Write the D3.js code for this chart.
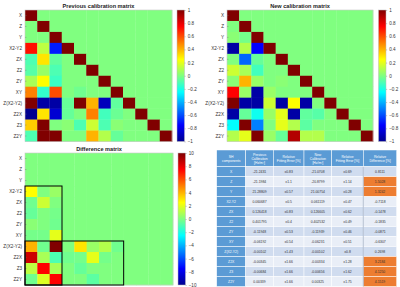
<!DOCTYPE html>
<html>
<head>
<meta charset="utf-8">
<script src="https://cdn.jsdelivr.net/npm/d3@7"></script>
<style>
  body { margin: 0; background: #fff; }
  svg { display: block; font-family: "Liberation Sans", Arial, sans-serif; }
</style>
</head>
<body>
<svg id="fig" width="400" height="287"></svg>
<script>
// ---- data ----
const labels = ["X","Z","Y","X2-Y2","ZX","Z2","ZY","XY","Z(X2-Y2)","Z2X","Z3","Z2Y"];

// lower triangles, row i has cols 0..i-1
const prevLower = [
  [],
  [0],
  [0, 0],
  [0.72, 0.12, -0.7],
  [-0.1, 0.3, -0.06, 0],
  [-0.08, 0.05, -0.1, 0, 0],
  [0.08, 0.25, -0.13, 0, 0, 0],
  [0.5, -0.15, 0.6, 0, -0.03, 0, 0],
  [1, -0.95, -0.95, -0.05, 1, 0.4, -0.9, -0.06],
  [-1, 0.3, -0.85, -0.05, 0, 0.5, -0.12, -0.04, 0],
  [0.35, 1, 0, 0.02, -0.1, 0.15, -0.1, 0.02, 0, 0],
  [-0.1, 1, 1, 0, 0, 0.4, 0.1, -0.05, 0, 0, 0]
];
const newLower = [
  [],
  [0],
  [0.02, -0.02],
  [-0.95, 0.1, -0.75],
  [0, -0.55, -0.05, 0],
  [0.15, 0.08, -0.12, 0, 0],
  [0.02, 0.4, 0.05, 0, 0.02, 0],
  [0.75, 0.05, -0.95, 0.05, 0, 0, 0],
  [1, -0.95, -0.95, 0.15, -0.95, 0.25, -0.95, 0],
  [-0.95, -0.05, -0.22, 0.05, 0.2, -0.95, -0.06, -0.08, 0],
  [-0.25, 1, -0.5, 0, 0.2, 0.1, -0.07, 0, 0, 0],
  [0.1, 0.2, 1, 0.05, -0.05, 0.9, 0.1, 0.1, 0, 0, 0]
];
const diffLower = [
  [],
  [0],
  [0, 0],
  [2.5, 0, 0.5],
  [-0.3, 1.5, 0, 0],
  [-0.5, 0, -0.2, 0, 0],
  [0.2, 0, -0.3, 0, 0, 0],
  [-0.2, -0.2, 2, 0, 0, 0, 0],
  [4, -0.3, 10, 0, 3, 0.5, 1, -0.3],
  [8.5, 0.8, -1, -0.3, -0.2, 2, -0.2, 0, 0],
  [1.2, 7.5, 0.8, 0, -0.5, 0, 0, 0, 0, 0],
  [-0.3, 1.8, 7.5, 0, 0, -0.7, 0, 0, 0, 0, 0]
];

const prevTicks = [-1, -0.8, -0.6, -0.4, -0.2, 0, 0.2, 0.4, 0.6, 0.8, 1];
const diffTicks = [-10, -8, -6, -4, -2, 0, 2, 4, 6, 8, 10];

// table columns
const tblHeader = [
  ["SH", "components"],
  ["Previous", "Calibration", "[Hz/m²]"],
  ["Relative", "Fitting Error [%]"],
  ["New", "Calibration", "[Hz/m²]"],
  ["Relative", "Fitting Error [%]"],
  ["Relative", "Difference [%]"]
];
const prevCal = ["-21.2431","-21.1984","21.28809","0.060687","0.126418","0.401795","-0.11948","-0.06192","-0.00102","-0.00345","-0.00684","0.00339"];
const prevErr = ["±0.83","±1.1","±0.57","±0.5","±0.83","±0.4","±0.53","±0.54","±1.43","±1.66","±1.66","±1.66"];
const newCal = ["-21.0708","-20.8799","21.00754","0.061119","0.126605","0.402532","-0.11939","-0.06231","-0.00102","-0.00334","-0.00656","0.00325"];
const newErr = ["±0.69","±1.14","±0.28","±0.47","±0.62","±0.49","±0.46","±0.51","±0.8","±1.28","±1.62","±1.75"];
const relDiff = ["0.8111","1.5028","1.3242","-0.7118","-0.1478","-0.1835","-0.0871","-0.6307","0.2698","3.2184","4.1250","4.1519"];
const flagged = [false, true, true, false, false, false, false, false, false, true, true, true];

// ---- helpers ----
const svg = d3.select("#fig");

const jet = d3.scaleLinear()
  .domain([0, 0.125, 0.375, 0.625, 0.875, 1])
  .range(["#00008f", "#0000ff", "#00ffff", "#ffff00", "#ff0000", "#800000"])
  .clamp(true);

function fullMatrix(lower, diagVal) {
  const cells = [];
  const n = labels.length;
  for (let i = 0; i < n; i++) {
    for (let j = 0; j < n; j++) {
      let v = 0;
      if (j < i) v = lower[i][j];
      else if (j === i) v = diagVal;
      cells.push({ r: i, c: j, v });
    }
  }
  return cells;
}

function heatmap(opt) {
  const { x0, x1, y0, y1, cells, vmax, ticks, title, cbX, gradId, fmt } = opt;
  const g = svg.append("g");

  const x = d3.scaleBand().domain(d3.range(labels.length)).range([x0, x1]);
  const y = d3.scaleBand().domain(d3.range(labels.length)).range([y0, y1]);
  const norm = v => (v + vmax) / (2 * vmax);

  g.selectAll("rect.cell")
    .data(cells)
    .join("rect")
    .attr("class", "cell")
    .attr("x", d => x(d.c))
    .attr("y", d => y(d.r))
    .attr("width", x.bandwidth() + 0.3)
    .attr("height", y.bandwidth() + 0.3)
    .attr("fill", d => jet(norm(d.v)));

  // frame
  g.append("rect")
    .attr("x", x0).attr("y", y0)
    .attr("width", x1 - x0).attr("height", y1 - y0)
    .attr("fill", "none").attr("stroke", "#c8c8c8").attr("stroke-width", 0.6);

  // row labels
  const yl = d3.scaleBand().domain(labels).range([y0, y1]);
  const ax = g.append("g")
    .attr("transform", `translate(${x0},0)`)
    .call(d3.axisLeft(yl).tickSize(-1.5).tickPadding(3));
  ax.select(".domain").remove();
  ax.selectAll("line").attr("stroke", "#777").attr("stroke-width", 0.4);
  ax.selectAll("text").attr("font-size", 4.6).attr("fill", "#333");

  // title
  g.append("text")
    .attr("x", (x0 + x1) / 2)
    .attr("y", y0 - 2.2)
    .attr("text-anchor", "middle")
    .attr("font-size", 5.6)
    .attr("font-weight", "bold")
    .attr("fill", "#222")
    .text(title);

  // colorbar
  const grad = svg.append("defs").append("linearGradient")
    .attr("id", gradId).attr("x1", 0).attr("y1", 1).attr("x2", 0).attr("y2", 0);
  d3.range(0, 1.0001, 0.025).forEach(t => {
    grad.append("stop").attr("offset", t).attr("stop-color", jet(t));
  });
  const cbW = 7.5;
  g.append("rect")
    .attr("x", cbX).attr("y", y0)
    .attr("width", cbW).attr("height", y1 - y0)
    .attr("fill", `url(#${gradId})`)
    .attr("stroke", "#bbb").attr("stroke-width", 0.5);

  const cs = d3.scaleLinear().domain([-vmax, vmax]).range([y1, y0]);
  const cax = g.append("g")
    .attr("transform", `translate(${cbX + cbW},0)`)
    .call(d3.axisRight(cs).tickValues(ticks).tickSize(1.2).tickPadding(2).tickFormat(fmt));
  cax.select(".domain").remove();
  cax.selectAll("line").attr("stroke", "#777").attr("stroke-width", 0.4);
  cax.selectAll("text").attr("font-size", 4.6).attr("fill", "#333");

  return { g, x, y };
}

// ---- panels ----
heatmap({
  x0: 25, x1: 172, y0: 10, y1: 141.5,
  cells: fullMatrix(prevLower, 1), vmax: 1, ticks: prevTicks,
  title: "Previous calibration matrix", cbX: 177, gradId: "gp",
  fmt: d3.format("")
});

heatmap({
  x0: 227, x1: 373, y0: 10, y1: 141.5,
  cells: fullMatrix(newLower, 1), vmax: 1, ticks: prevTicks,
  title: "New calibration matrix", cbX: 378.5, gradId: "gn",
  fmt: d3.format("")
});

const dm = heatmap({
  x0: 25, x1: 173, y0: 153, y1: 285,
  cells: fullMatrix(diffLower, 0), vmax: 10, ticks: diffTicks,
  title: "Difference matrix", cbX: 178, gradId: "gd",
  fmt: d3.format("d")
});

// highlight boxes on the difference matrix
const boxes = [
  { r0: 3, r1: 11, c0: 0, c1: 2 },
  { r0: 8, r1: 11, c0: 0, c1: 7 }
];
dm.g.selectAll("rect.box")
  .data(boxes)
  .join("rect")
  .attr("class", "box")
  .attr("x", d => dm.x(d.c0))
  .attr("y", d => dm.y(d.r0))
  .attr("width", d => dm.x(d.c1) + dm.x.bandwidth() - dm.x(d.c0))
  .attr("height", d => dm.y(d.r1) + dm.y.bandwidth() - dm.y(d.r0))
  .attr("fill", "none")
  .attr("stroke", "#000")
  .attr("stroke-width", 1);

// ---- table ----
const colEdges = [216.7, 245.7, 273.3, 304, 331.7, 363.3, 396.7];
const headTop = 150, headBot = 166.7, tblBot = 286.5;

const tg = svg.append("g").attr("font-size", 3.4);
const ry = d3.scaleBand().domain(d3.range(labels.length)).range([headBot, tblBot]);

const columns = [labels, prevCal, prevErr, newCal, newErr, relDiff];

// header
tg.selectAll("rect.hd")
  .data(tblHeader)
  .join("rect")
  .attr("class", "hd")
  .attr("x", (d, i) => colEdges[i])
  .attr("y", headTop)
  .attr("width", (d, i) => colEdges[i + 1] - colEdges[i])
  .attr("height", headBot - headTop)
  .attr("fill", "#5b9bd5")
  .attr("stroke", "#fff").attr("stroke-width", 0.5);

tblHeader.forEach((lines, i) => {
  const cx = (colEdges[i] + colEdges[i + 1]) / 2;
  const cy = (headTop + headBot) / 2;
  const lh = 4;
  lines.forEach((s, k) => {
    tg.append("text")
      .attr("x", cx)
      .attr("y", cy + (k - (lines.length - 1) / 2) * lh + 1.2)
      .attr("text-anchor", "middle")
      .attr("fill", "#fff")
      .text(s);
  });
});

// body cells
const bodyCells = [];
columns.forEach((col, ci) => {
  col.forEach((val, ri) => bodyCells.push({ ci, ri, val }));
});

function cellFill(d) {
  if (d.ci === 0) return "#5b9bd5";
  if (d.ci === 5 && flagged[d.ri]) return "#ed7d31";
  return d.ri % 2 === 0 ? "#d0dcef" : "#e9eef7";
}

tg.selectAll("rect.cell")
  .data(bodyCells)
  .join("rect")
  .attr("class", "cell")
  .attr("x", d => colEdges[d.ci])
  .attr("y", d => ry(d.ri))
  .attr("width", d => colEdges[d.ci + 1] - colEdges[d.ci])
  .attr("height", ry.bandwidth())
  .attr("fill", cellFill)
  .attr("stroke", "#fff").attr("stroke-width", 0.5);

tg.selectAll("text.val")
  .data(bodyCells)
  .join("text")
  .attr("class", "val")
  .attr("x", d => (colEdges[d.ci] + colEdges[d.ci + 1]) / 2)
  .attr("y", d => ry(d.ri) + ry.bandwidth() / 2 + 1.2)
  .attr("text-anchor", "middle")
  .attr("fill", d => d.ci === 0 ? "#fff" : "#333")
  .text(d => d.val);

// separator before the last column
tg.append("line")
  .attr("x1", colEdges[5]).attr("x2", colEdges[5])
  .attr("y1", headBot).attr("y2", tblBot)
  .attr("stroke", "#8a9bb5").attr("stroke-width", 0.6);
</script>
</body>
</html>
